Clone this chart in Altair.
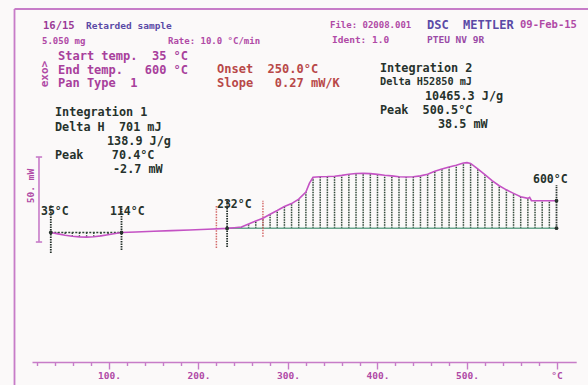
import altair as alt
import pandas as pd

# ---------------- data ----------------
temp_c = [35, 43, 51, 59, 67, 75, 83, 91, 99, 107, 114,
          130, 150, 170, 190, 210, 232,
          240, 248, 256, 264, 272, 280, 288, 296, 304, 312, 320, 324, 328,
          336, 344, 352, 360, 368, 376, 384, 392, 400, 408, 416, 424, 432,
          440, 448, 456, 464, 472, 480, 488, 496, 500, 504, 512, 520, 528,
          536, 544, 552, 560, 568, 570, 572, 576, 584, 592, 600]
heat_mw = [0.0, -0.8, -1.6, -2.2, -2.6, -2.7, -2.5, -2.0, -1.3, -0.6, 0.0,
           0.3, 0.7, 1.1, 1.5, 1.9, 2.4,
           2.8, 3.2, 5.0, 6.8, 8.4, 10.7, 12.9, 15.3, 17.0, 19.6, 23.8, 29.0, 32.5,
           32.8, 32.9, 33.1, 33.6, 34.3, 34.7, 34.8, 34.6, 34.2, 33.7, 33.3, 32.8, 32.6,
           32.8, 33.3, 34.3, 36.0, 37.3, 38.5, 39.6, 40.9, 41.1, 40.6, 37.4, 34.0, 30.5,
           27.5, 25.1, 23.0, 21.0, 20.1, 20.7, 18.7, 18.7, 18.7, 18.7, 18.7]

# integration limits and baselines
int1_limits = [35, 114]
int1_base = 0.0
int2_limits = [232, 600]
int2_base = 2.5

# limit markers (temperature, top, bottom in mW)
marker_temp = [35, 114, 232, 600]
marker_top = [16.2, 16.2, 19.1, 27.9]
marker_bottom = [-12.1, -10.3, -8.5, 2.5]
marker_dot = [0.0, 0.0, 2.4, 18.7]

# onset construction lines (red)
onset_temp = [220, 272]
onset_top = [15.6, 18.7]
onset_bottom = [-9.1, -2.5]

# axis ticks
tick_values = [20, 40, 60, 80, 100, 120, 140, 160, 180, 200, 220, 240, 260, 280,
               300, 320, 340, 360, 380, 400, 420, 440, 460, 480, 500, 520, 540,
               560, 580, 600]

# scale bar (50 mW)
bar_temp = 21.8
bar_low = -5.6
bar_high = 44.4

# ---------------- colours / fonts ----------------
MAG = "#b04aa6"
MAG_L = "#c77cc8"
CURVE = "#c452c4"
PURPLE = "#5a4aa6"
RED = "#b84848"
DARK = "#26322c"
HATCH = "#2e4636"
GREEN = "#6aa58e"
MONO = "DejaVu Sans Mono"

df = pd.DataFrame({"T": temp_c, "mW": heat_mw})

x_scale = alt.Scale(domain=[14, 622], range=[32, 576.2], zero=False, nice=False)
y_scale = alt.Scale(domain=[-76.18, 136.76], zero=False, nice=False)

x_axis = alt.Axis(
    values=tick_values,
    labelExpr="datum.value == 600 ? '°C' : (datum.value % 100 == 0 ? datum.value + '.' : '')",
    tickSize={"condition": {"test": "datum.value % 100 == 0", "value": 7}, "value": 3.5},
    domainColor=MAG_L, tickColor=MAG_L, domainWidth=1.6, tickWidth=1.4,
    labelColor=MAG, labelFont=MONO, labelFontSize=9.5, labelFontWeight="bold", labelPadding=1,
    labelOverlap=False, labelFlush=False, grid=False, title=None,
)


def X(field):
    return alt.X(field, type="quantitative", scale=x_scale, axis=x_axis, title=None)


def Y(field):
    return alt.Y(field, type="quantitative", scale=y_scale, axis=None, title=None)


layers = []

# integration 1 hatch
h1 = df[(df["T"] > int1_limits[0]) & (df["T"] < int1_limits[1])].copy()
h1["base"] = int1_base
layers.append(alt.Chart(h1).mark_rule(color=HATCH, strokeWidth=1.4, strokeDash=[1.5, 1.2]).encode(
    x=X("T"), y=Y("base"), y2="mW"))

# integration 2 hatch
h2 = df[(df["T"] > int2_limits[0]) & (df["T"] < int2_limits[1]) & ((df["T"] - 232) % 8 == 0)].copy()
h2["base"] = int2_base
layers.append(alt.Chart(h2).mark_rule(color=HATCH, strokeWidth=1.5, strokeDash=[1.5, 1.0]).encode(
    x=X("T"), y=Y("base"), y2="mW"))

# baselines
b1 = pd.DataFrame({"T": int1_limits, "mW": [int1_base, int1_base]})
layers.append(alt.Chart(b1).mark_line(color=HATCH, strokeWidth=1.4, strokeDash=[2, 1.5]).encode(
    x=X("T"), y=Y("mW")))
b2 = pd.DataFrame({"T": int2_limits, "mW": [int2_base, int2_base]})
layers.append(alt.Chart(b2).mark_line(color=GREEN, strokeWidth=1.4).encode(
    x=X("T"), y=Y("mW")))

# onset red lines
on = pd.DataFrame({"T": onset_temp, "top": onset_top, "bot": onset_bottom})
layers.append(alt.Chart(on).mark_rule(color="#d46a6a", strokeWidth=1.5, strokeDash=[1.5, 1.2]).encode(
    x=X("T"), y=Y("bot"), y2="top"))

# markers
mk = pd.DataFrame({"T": marker_temp, "top": marker_top, "bot": marker_bottom, "dot": marker_dot})
layers.append(alt.Chart(mk).mark_rule(color=DARK, strokeWidth=1.8, strokeDash=[1.5, 1.0]).encode(
    x=X("T"), y=Y("bot"), y2="top"))

# curve
layers.append(alt.Chart(df).mark_line(color=CURVE, strokeWidth=1.6).encode(
    x=X("T"), y=Y("mW")))

# dots on limits
dots = pd.concat([
    pd.DataFrame({"T": marker_temp, "mW": marker_dot}),
    pd.DataFrame({"T": [600], "mW": [int2_base]}),
])
layers.append(alt.Chart(dots).mark_point(filled=True, color=DARK, size=14, opacity=1).encode(
    x=X("T"), y=Y("mW")))

# scale bar
sb = pd.DataFrame({"T": [bar_temp], "lo": [bar_low], "hi": [bar_high]})
layers.append(alt.Chart(sb).mark_rule(color=MAG_L, strokeWidth=1.6).encode(
    x=X("T"), y=Y("lo"), y2="hi"))
caps = pd.DataFrame({"T": [bar_temp - 3.5, bar_temp - 3.5], "T2": [bar_temp + 3.5, bar_temp + 3.5],
                     "mW": [bar_low, bar_high]})
layers.append(alt.Chart(caps).mark_rule(color=MAG_L, strokeWidth=1.6).encode(
    x=X("T"), x2="T2", y=Y("mW")))

# frame
one = pd.DataFrame({"a": [0]})
layers.append(alt.Chart(one).mark_rule(color=MAG_L, strokeWidth=1.8).encode(
    x=alt.value(14.5), y=alt.value(9), y2=alt.value(385)))
layers.append(alt.Chart(one).mark_rule(color=MAG_L, strokeWidth=1.8).encode(
    x=alt.value(14.5), x2=alt.value(588), y=alt.value(9)))

# ---------------- texts ----------------
texts = [
    "16/15", "Retarded sample", "5.050 mg", "Rate: 10.0 °C/min",
    "Start temp.  35 °C", "End temp.   600 °C", "Pan Type  1",
    "Onset  250.0°C", "Slope   0.27 mW/K",
    "File: 02008.001", "DSC  METTLER", "09-Feb-15", "Ident: 1.0", "PTEU NV 9R",
    "Integration 2", "Delta H52850 mJ", "10465.3 J/g", "Peak  500.5°C", "38.5 mW",
    "Integration 1", "Delta H  701 mJ", "138.9 J/g", "Peak    70.4°C", "-2.7 mW",
    "35°C", "114°C", "232°C", "600°C",
]
text_x = [43, 86, 42, 168,
          58, 58, 58,
          217, 217,
          330, 427, 520, 332, 427,
          380, 380, 425, 380, 438,
          55, 55, 107, 55, 113,
          41, 110, 217, 533]
text_y = [25.5, 25.5, 40.7, 40.7,
          56, 69.5, 83,
          68.5, 82.5,
          25, 25, 25, 40, 40,
          68, 82, 96, 110, 124,
          112, 126.5, 140.5, 155, 168.5,
          211.5, 211.5, 205, 180]
text_size = [10.5, 9.5, 9, 9,
             12, 12, 12,
             12, 12,
             9, 12, 10.5, 9.5, 9.5,
             11.8, 10.2, 11.8, 11.8, 11.8,
             11.8, 11.8, 11.8, 11.8, 11.8,
             11.5, 11.5, 11.5, 11.5]
text_color = ["#9a3a96", PURPLE, MAG, MAG,
              "#a8409c", "#a8409c", "#a8409c",
              RED, RED,
              MAG, PURPLE, MAG, MAG, "#9a4aa6",
              DARK, DARK, DARK, DARK, DARK,
              DARK, DARK, DARK, DARK, DARK,
              DARK, DARK, DARK, DARK]

NBSP = "\u00a0"
for s, px, py, fs, col in zip(texts, text_x, text_y, text_size, text_color):
    layers.append(alt.Chart(pd.DataFrame({"t": [s.replace(" ", NBSP)]})).mark_text(
        align="left", baseline="middle", font=MONO, fontSize=fs, color=col, fontWeight="bold"
    ).encode(x=alt.value(px), y=alt.value(py), text="t:N"))

# rotated labels
rot_texts = ["50. mW", "exo>"]
rot_x = [31, 45]
rot_y = [186, 74]
rot_size = [9.5, 11]
for s, px, py, fs in zip(rot_texts, rot_x, rot_y, rot_size):
    layers.append(alt.Chart(pd.DataFrame({"t": [s.replace(" ", NBSP)]})).mark_text(
        align="center", baseline="middle", font=MONO, fontSize=fs, color=MAG, angle=270,
        fontWeight="bold"
    ).encode(x=alt.value(px), y=alt.value(py), text="t:N"))

chart = alt.layer(*layers).properties(
    width=588, height=362,
    autosize=alt.AutoSizeParams(type="none"),
    padding={"left": 0, "top": 0, "right": 0, "bottom": 23},
    background="#fbf9f9",
).configure_view(stroke=None)

chart.save("out.html", embed_options={"renderer": "svg", "actions": False})
